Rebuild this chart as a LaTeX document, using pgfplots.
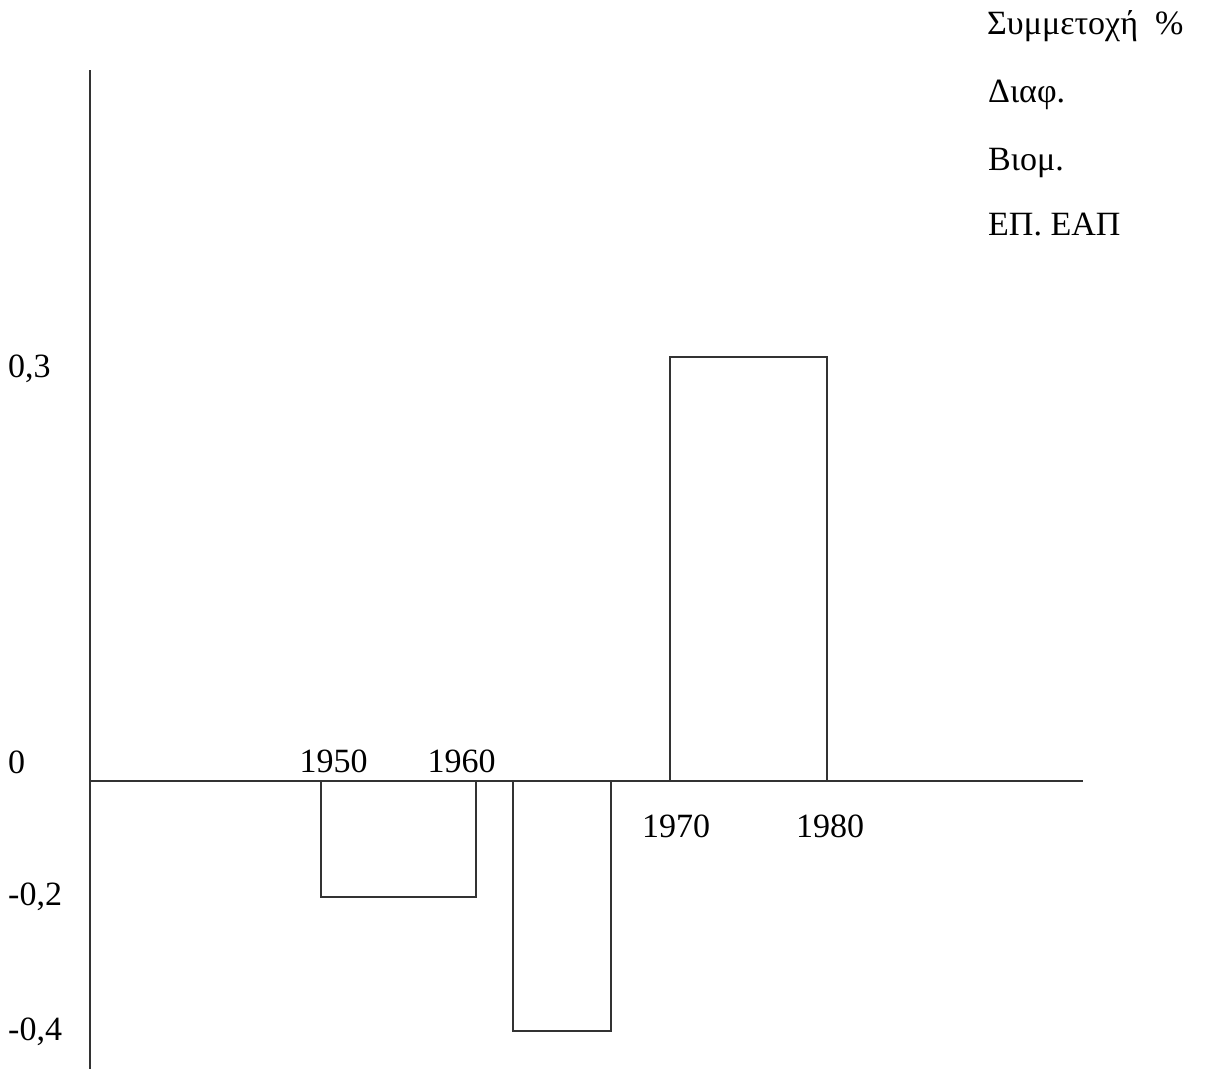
\documentclass[border=0pt]{standalone}
\usepackage{fontspec}
\setmainfont{Liberation Serif}
\usepackage{pgfplots}
\pgfplotsset{compat=1.18}
\newcommand{\bigf}{\fontsize{34bp}{40bp}\selectfont}
\begin{document}
\begin{tikzpicture}[x=1bp,y=1bp]
\useasboundingbox (0,0) rectangle (1208,1069);
\begin{axis}[
  at={(90bp,0bp)}, anchor=south west,
  scale only axis, width=993bp, height=999bp,
  xmin=90, xmax=1083,
  ymin=-0.4567, ymax=0.50307,
  y coord trafo/.code={\pgfmathparse{(#1>=0)*(#1)*1413.33 + (#1<0)*(#1>=-0.2)*(#1)*580 + (#1<-0.2)*(-116+((#1)+0.2)*670)}},
  axis x line=middle, axis y line=left,
  axis line style={-, line width=2.7bp, black!80},
  xtick=\empty,
  ytick={-0.4,-0.2,0,0.3},
  yticklabels={{\raisebox{-9bp}{-0,4}},{\raisebox{-8bp}{-0,2}},{\raisebox{8bp}{0}},{\raisebox{-20bp}{0,3}}},
  major tick length=0pt,
  yticklabel style={anchor=base west, inner sep=0pt, xshift=-82bp, font=\bigf},
  /pgf/number format/assume math mode=true,
  clip=false,
]
\addplot[black!80, line width=2.7bp, mark=none] coordinates {(321,0) (321,-0.2) (476,-0.2) (476,0)};
\addplot[black!80, line width=2.7bp, mark=none] coordinates {(513,0) (513,-0.4) (611,-0.4) (611,0)};
\addplot[black!80, line width=2.7bp, mark=none] coordinates {(670,0) (670,0.3) (827,0.3) (827,0)};
\end{axis}
\begin{scope}[every node/.style={font=\bigf, inner sep=0pt}]
\node[anchor=base] at (333.5,{1069-773}) {1950};
\node[anchor=base] at (461.5,{1069-773}) {1960};
\node[anchor=base] at (676,{1069-838}) {1970};
\node[anchor=base] at (830,{1069-838}) {1980};
\node[anchor=base west] at (987,{1069-35}) {Συμμετοχή\hspace{17bp}\%};
\node[anchor=base west] at (988,{1069-103}) {Διαφ.};
\node[anchor=base west] at (988,{1069-171}) {Βιομ.};
\node[anchor=base west] at (988,{1069-236}) {ΕΠ. ΕΑΠ};
\end{scope}
\end{tikzpicture}
\end{document}
